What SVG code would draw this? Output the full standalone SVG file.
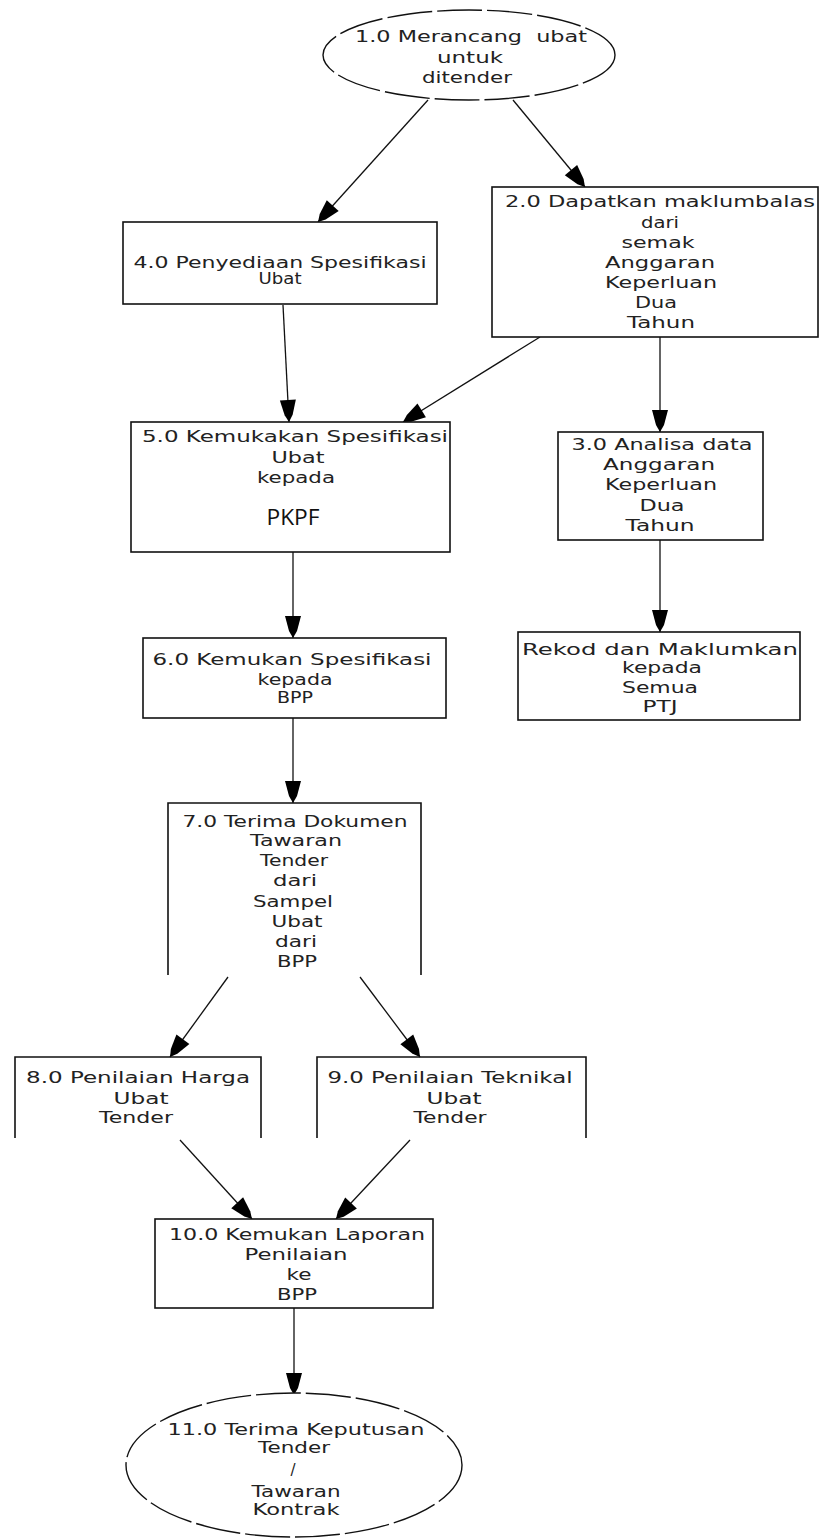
<svg xmlns="http://www.w3.org/2000/svg" width="821" height="1538" viewBox="0 0 821 1538">
<defs>
<marker id="ah" markerUnits="userSpaceOnUse" markerWidth="26" markerHeight="22" refX="0" refY="0" viewBox="-24 -11 26 22" orient="auto">
<path d="M0,0 L-7,-4 L-22,-8 L-22,8 L-7,4 Z" fill="#000"/>
</marker>
<style>
.bx{fill:#fff;stroke:#111;stroke-width:1.6}
.op{fill:none;stroke:#111;stroke-width:1.6}
.el{fill:#fff;stroke:#111;stroke-width:1.4;stroke-dasharray:45 5}
.t{font-family:"DejaVu Sans",sans-serif;font-size:15px;fill:#222;text-anchor:middle}
.pk{font-family:"Open Sans","Liberation Sans",sans-serif;font-size:21px;fill:#111;text-anchor:middle}
.cn line{stroke:#111;stroke-width:1.3;marker-end:url(#ah)}
</style>
</defs>
<rect width="821" height="1538" fill="#fff"/>
<g id="connectors" class="cn">
<line x1="428" y1="100" x2="318" y2="222"/>
<line x1="513" y1="100" x2="585" y2="187"/>
<line x1="283" y1="305" x2="289" y2="422"/>
<line x1="540" y1="337" x2="403" y2="422"/>
<line x1="660" y1="337" x2="660" y2="432"/>
<line x1="660" y1="540" x2="660" y2="632"/>
<line x1="293" y1="552" x2="293" y2="638"/>
<line x1="293" y1="718" x2="293" y2="803"/>
<line x1="228" y1="977" x2="170" y2="1057"/>
<line x1="360" y1="977" x2="420" y2="1057"/>
<line x1="180" y1="1140" x2="252" y2="1219"/>
<line x1="410" y1="1140" x2="336" y2="1219"/>
<line x1="294" y1="1308" x2="294" y2="1395"/>
</g>
<g id="n1">
<ellipse class="el" cx="469" cy="55" rx="146" ry="45"/>
<text class="t" x="471" y="42" textLength="232" lengthAdjust="spacingAndGlyphs">1.0 Merancang&#160;&#160;ubat</text>
<text class="t" x="470" y="63" textLength="66" lengthAdjust="spacingAndGlyphs">untuk</text>
<text class="t" x="467" y="83" textLength="90" lengthAdjust="spacingAndGlyphs">ditender</text>
</g>
<g id="n4">
<rect class="bx" x="123" y="222" width="314" height="82"/>
<text class="t" x="280" y="268" textLength="293" lengthAdjust="spacingAndGlyphs">4.0 Penyediaan Spesifikasi</text>
<text class="t" x="280" y="284" textLength="43" lengthAdjust="spacingAndGlyphs">Ubat</text>
</g>
<g id="n2">
<rect class="bx" x="492" y="187" width="326" height="150"/>
<text class="t" x="660" y="207" textLength="310" lengthAdjust="spacingAndGlyphs">2.0 Dapatkan maklumbalas</text>
<text class="t" x="660" y="228" textLength="38" lengthAdjust="spacingAndGlyphs">dari</text>
<text class="t" x="658" y="248" textLength="73" lengthAdjust="spacingAndGlyphs">semak</text>
<text class="t" x="660" y="268" textLength="110" lengthAdjust="spacingAndGlyphs">Anggaran</text>
<text class="t" x="661" y="288" textLength="112" lengthAdjust="spacingAndGlyphs">Keperluan</text>
<text class="t" x="656" y="308" textLength="42" lengthAdjust="spacingAndGlyphs">Dua</text>
<text class="t" x="661" y="328" textLength="68" lengthAdjust="spacingAndGlyphs">Tahun</text>
</g>
<g id="n5">
<rect class="bx" x="131" y="422" width="319" height="130"/>
<text class="t" x="295" y="442" textLength="306" lengthAdjust="spacingAndGlyphs">5.0 Kemukakan Spesifikasi</text>
<text class="t" x="298" y="463" textLength="53" lengthAdjust="spacingAndGlyphs">Ubat</text>
<text class="t" x="296" y="483" textLength="78" lengthAdjust="spacingAndGlyphs">kepada</text>
<text class="pk" x="293" y="525" textLength="53" lengthAdjust="spacingAndGlyphs">PKPF</text>
</g>
<g id="n3">
<rect class="bx" x="558" y="432" width="205" height="108"/>
<text class="t" x="662" y="450" textLength="181" lengthAdjust="spacingAndGlyphs">3.0 Analisa data</text>
<text class="t" x="659" y="470" textLength="112" lengthAdjust="spacingAndGlyphs">Anggaran</text>
<text class="t" x="661" y="490" textLength="112" lengthAdjust="spacingAndGlyphs">Keperluan</text>
<text class="t" x="662" y="511" textLength="45" lengthAdjust="spacingAndGlyphs">Dua</text>
<text class="t" x="660" y="531" textLength="69" lengthAdjust="spacingAndGlyphs">Tahun</text>
</g>
<g id="nrekod">
<rect class="bx" x="518" y="632" width="282" height="88"/>
<text class="t" x="660" y="655" textLength="276" lengthAdjust="spacingAndGlyphs">Rekod dan Maklumkan</text>
<text class="t" x="662" y="673" textLength="80" lengthAdjust="spacingAndGlyphs">kepada</text>
<text class="t" x="660" y="693" textLength="76" lengthAdjust="spacingAndGlyphs">Semua</text>
<text class="t" x="660" y="712" textLength="35" lengthAdjust="spacingAndGlyphs">PTJ</text>
</g>
<g id="n6">
<rect class="bx" x="143" y="638" width="303" height="80"/>
<text class="t" x="292" y="665" textLength="279" lengthAdjust="spacingAndGlyphs">6.0 Kemukan Spesifikasi</text>
<text class="t" x="295" y="685" textLength="75" lengthAdjust="spacingAndGlyphs">kepada</text>
<text class="t" x="295" y="703" textLength="36" lengthAdjust="spacingAndGlyphs">BPP</text>
</g>
<g id="n7">
<path class="op" d="M168,975 L168,803 L421,803 L421,975"/>
<text class="t" x="295" y="827" textLength="225" lengthAdjust="spacingAndGlyphs">7.0 Terima Dokumen</text>
<text class="t" x="296" y="846" textLength="92" lengthAdjust="spacingAndGlyphs">Tawaran</text>
<text class="t" x="294" y="866" textLength="68" lengthAdjust="spacingAndGlyphs">Tender</text>
<text class="t" x="295" y="886" textLength="44" lengthAdjust="spacingAndGlyphs">dari</text>
<text class="t" x="293" y="907" textLength="80" lengthAdjust="spacingAndGlyphs">Sampel</text>
<text class="t" x="297" y="927" textLength="51" lengthAdjust="spacingAndGlyphs">Ubat</text>
<text class="t" x="296" y="947" textLength="42" lengthAdjust="spacingAndGlyphs">dari</text>
<text class="t" x="297" y="967" textLength="40" lengthAdjust="spacingAndGlyphs">BPP</text>
</g>
<g id="n8">
<path class="op" d="M15,1138 L15,1057 L261,1057 L261,1138"/>
<text class="t" x="138" y="1083" textLength="224" lengthAdjust="spacingAndGlyphs">8.0 Penilaian Harga</text>
<text class="t" x="141" y="1104" textLength="55" lengthAdjust="spacingAndGlyphs">Ubat</text>
<text class="t" x="136" y="1123" textLength="74" lengthAdjust="spacingAndGlyphs">Tender</text>
</g>
<g id="n9">
<path class="op" d="M317,1138 L317,1057 L586,1057 L586,1138"/>
<text class="t" x="450" y="1083" textLength="245" lengthAdjust="spacingAndGlyphs">9.0 Penilaian Teknikal</text>
<text class="t" x="454" y="1104" textLength="55" lengthAdjust="spacingAndGlyphs">Ubat</text>
<text class="t" x="450" y="1123" textLength="73" lengthAdjust="spacingAndGlyphs">Tender</text>
</g>
<g id="n10">
<rect class="bx" x="155" y="1219" width="278" height="89"/>
<text class="t" x="297" y="1240" textLength="256" lengthAdjust="spacingAndGlyphs">10.0 Kemukan Laporan</text>
<text class="t" x="296" y="1260" textLength="103" lengthAdjust="spacingAndGlyphs">Penilaian</text>
<text class="t" x="299" y="1280" textLength="25" lengthAdjust="spacingAndGlyphs">ke</text>
<text class="t" x="297" y="1300" textLength="40" lengthAdjust="spacingAndGlyphs">BPP</text>
</g>
<g id="n11">
<ellipse class="el" cx="294" cy="1465" rx="168" ry="72"/>
<text class="t" x="296" y="1435" textLength="257" lengthAdjust="spacingAndGlyphs">11.0 Terima Keputusan</text>
<text class="t" x="294" y="1453" textLength="72" lengthAdjust="spacingAndGlyphs">Tender</text>
<text class="t" x="293" y="1475">/</text>
<text class="t" x="296" y="1497" textLength="89" lengthAdjust="spacingAndGlyphs">Tawaran</text>
<text class="t" x="296" y="1515" textLength="87" lengthAdjust="spacingAndGlyphs">Kontrak</text>
</g>
</svg>
